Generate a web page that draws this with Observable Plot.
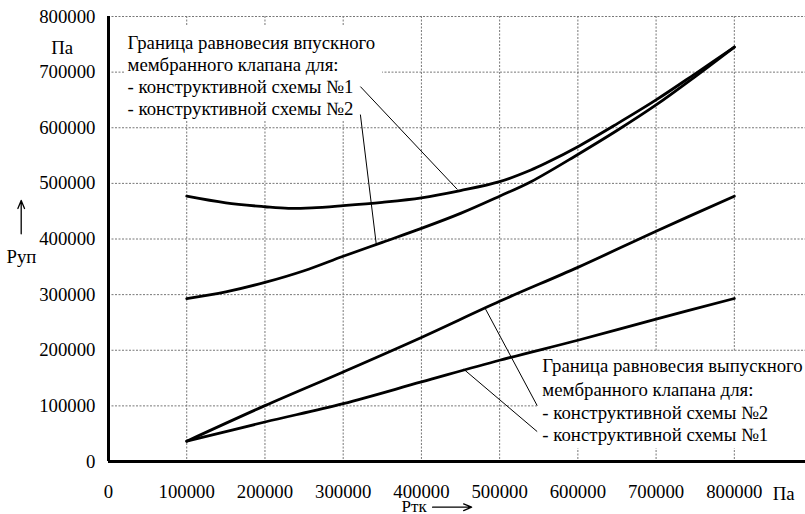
<!DOCTYPE html>
<html>
<head>
<meta charset="utf-8">
<script src="https://cdn.jsdelivr.net/npm/d3@7"></script>
<script src="https://cdn.jsdelivr.net/npm/@observablehq/plot@0.6"></script>
<style>
  html, body { margin: 0; padding: 0; background: white; }
  svg text { font-family: "Liberation Serif", "Times New Roman", serif !important; }
</style>
</head>
<body>
<div id="chart"></div>
<script>
// Tick values
const xTicks = [0, 100000, 200000, 300000, 400000, 500000, 600000, 700000, 800000];
const yTicks = [0, 100000, 200000, 300000, 400000, 500000, 600000, 700000, 800000];

// Inlet membrane valve equilibrium boundary, scheme №1
const inlet1X = [100000, 150000, 200000, 230000, 260000, 300000, 350000, 400000, 450000, 500000, 540000, 560000, 600000, 650000, 700000, 750000, 800000];
const inlet1Y = [477000, 465000, 458000, 455000, 456000, 460000, 466000, 474000, 487000, 503000, 524000, 537000, 566000, 607000, 650000, 697000, 745000];

// Inlet membrane valve equilibrium boundary, scheme №2
const inlet2X = [100000, 150000, 200000, 250000, 300000, 350000, 400000, 450000, 500000, 540000, 600000, 650000, 700000, 750000, 800000];
const inlet2Y = [293000, 305000, 322000, 343000, 369000, 394000, 419000, 446000, 477000, 503000, 552000, 595000, 641000, 692000, 745000];

// Outlet membrane valve equilibrium boundary, scheme №2
const outlet2X = [100000, 200000, 300000, 400000, 500000, 600000, 700000, 800000];
const outlet2Y = [36500, 100400, 161000, 223000, 288000, 349000, 414000, 477000];

// Outlet membrane valve equilibrium boundary, scheme №1
const outlet1X = [100000, 200000, 300000, 400000, 500000, 600000, 700000, 800000];
const outlet1Y = [36500, 71000, 104000, 143000, 182000, 218000, 256000, 293000];

// Annotation texts
const upperText = ["Граница равновесия впускного", "мембранного клапана для:", "- конструктивной схемы №1", "- конструктивной схемы №2"];
const upperTextY = [753000, 713700, 674200, 634600];
const upperTextX = 24300;

const lowerText = ["Граница равновесия выпускного", "мембранного клапана для:", "- конструктивной схемы №2", "- конструктивной схемы №1"];
const lowerTextY = [172600, 129400, 88100, 48500];
const lowerTextX = 554600;

// Leader lines [x1, y1, x2, y2]
const leaders = [
  [322000, 674000, 446000, 489000],
  [322000, 623700, 342300, 390500],
  [548000, 100400, 482000, 274000],
  [548000, 53800, 454000, 166000]
];

// White label boxes [x1, x2, y1, y2]
const boxes = [
  [21700, 350400, 613000, 783800],
  [548600, 891000, 23400, 197800]
];

// Axis titles
const centeredTitles = [
  {x: -59200, y: 744300, text: "Па"},
  {x: -111300, y: 367200, text: "Руп"},
  {x: 863200, y: -57500, text: "Па"}
];
const startTitles = [
  {x: 374700, y: -80200, text: "Ртк"}
];
const arrows = [
  {x1: -111600, y1: 409300, x2: -111600, y2: 469200},
  {x1: 414300, y1: -82200, x2: 464200, y2: -82200}
];

const toRows = (xs, ys, name) => xs.map((x, i) => ({x, y: ys[i], series: name}));
const curves = [
  ...toRows(inlet1X, inlet1Y, "in1"),
  ...toRows(inlet2X, inlet2Y, "in2"),
  ...toRows(outlet2X, outlet2Y, "out2"),
  ...toRows(outlet1X, outlet1Y, "out1")
];
const upperRows = upperText.map((t, i) => ({x: upperTextX, y: upperTextY[i], t}));
const lowerRows = lowerText.map((t, i) => ({x: lowerTextX, y: lowerTextY[i], t}));

const fs = 18.8;

const chart = Plot.plot({
  width: 805,
  height: 514,
  marginLeft: 108,
  marginRight: 0,
  marginTop: 16,
  marginBottom: 53,
  x: {domain: [0, 891000], axis: null},
  y: {domain: [0, 800000], axis: null},
  style: {fontFamily: "Liberation Serif, serif", fontSize: fs + "px", background: "white", color: "black", overflow: "visible"},
  marks: [
    Plot.ruleY(yTicks.slice(1), {stroke: "#777", strokeWidth: 1, strokeDasharray: "2,1.5"}),
    Plot.ruleX(xTicks.slice(1), {stroke: "#777", strokeWidth: 1, strokeDasharray: "2,1.5"}),
    Plot.rect(boxes, {x1: d => d[0], x2: d => d[1], y1: d => d[2], y2: d => d[3], fill: "white"}),
    Plot.line(curves, {x: "x", y: "y", z: "series", stroke: "black", strokeWidth: 2.8, curve: "catmull-rom"}),
    Plot.link(leaders, {x1: d => d[0], y1: d => d[1], x2: d => d[2], y2: d => d[3], stroke: "black", strokeWidth: 1}),
    Plot.text(upperRows, {x: "x", y: "y", text: "t", textAnchor: "start", fontSize: fs}),
    Plot.text(lowerRows, {x: "x", y: "y", text: "t", textAnchor: "start", fontSize: fs}),
    Plot.ruleX([0], {stroke: "black", strokeWidth: 3}),
    Plot.ruleY([0], {stroke: "black", strokeWidth: 3}),
    Plot.axisX(xTicks, {tickSize: 0, tickPadding: 23, tickFormat: d3.format("d"), label: null, fontSize: fs}),
    Plot.axisY(yTicks, {tickSize: 0, tickPadding: 13, tickFormat: d3.format("d"), label: null, fontSize: fs}),
    Plot.text(centeredTitles, {x: "x", y: "y", text: "text", textAnchor: "middle", fontSize: fs, clip: false}),
    Plot.text(startTitles, {x: "x", y: "y", text: "text", textAnchor: "start", fontSize: 17, clip: false}),
    Plot.arrow(arrows, {x1: "x1", y1: "y1", x2: "x2", y2: "y2", stroke: "black", strokeWidth: 1.3, headLength: 10, headAngle: 45, clip: false})
  ]
});
document.getElementById("chart").appendChild(chart);
</script>
</body>
</html>
